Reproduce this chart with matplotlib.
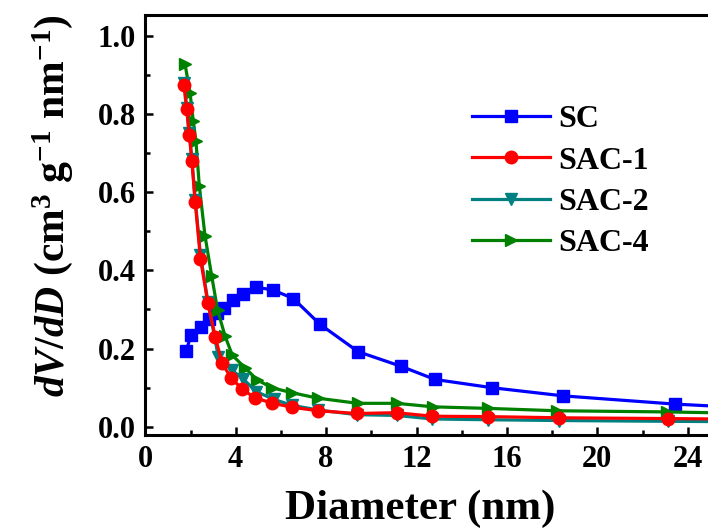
import matplotlib
matplotlib.use("Agg")
import matplotlib.pyplot as plt
from matplotlib.ticker import MultipleLocator, FormatStrFormatter

# ---- data ----
sc_x = [1.81, 2.02, 2.46, 2.80, 3.19, 3.50, 3.89, 4.34, 4.90, 5.64, 6.55, 7.73,
        9.42, 11.30, 12.82, 15.33, 18.50, 23.44, 29.50]
sc_y = [0.194, 0.234, 0.256, 0.275, 0.290, 0.303, 0.324, 0.339, 0.357, 0.350,
        0.328, 0.262, 0.192, 0.155, 0.121, 0.100, 0.079, 0.058, 0.040]

sac1_x = [1.72, 1.83, 1.95, 2.06, 2.21, 2.44, 2.77, 3.10, 3.40, 3.80, 4.29, 4.85,
          5.59, 6.48, 7.65, 9.35, 11.12, 12.70, 15.18, 18.32, 23.14, 29.00]
sac1_y = [0.874, 0.812, 0.746, 0.679, 0.574, 0.430, 0.316, 0.229, 0.162, 0.125,
          0.096, 0.074, 0.061, 0.050, 0.041, 0.034, 0.036, 0.027, 0.026, 0.023,
          0.021, 0.018]

sac2_x = [1.72, 1.83, 1.95, 2.06, 2.21, 2.44, 2.77, 3.23, 3.82, 4.34, 4.90, 5.70,
          6.48, 7.65, 9.35, 11.12, 12.70, 15.18, 18.32, 23.14, 29.00]
sac2_y = [0.880, 0.815, 0.750, 0.685, 0.580, 0.440, 0.320, 0.179, 0.145, 0.122,
          0.090, 0.070, 0.055, 0.043, 0.031, 0.029, 0.020, 0.018, 0.016, 0.014,
          0.012]

sac4_x = [1.76, 1.98, 2.12, 2.24, 2.39, 2.64, 2.94, 3.20, 3.53, 3.85, 4.41, 4.95,
          5.59, 6.50, 7.65, 9.40, 11.12, 12.74, 15.18, 18.20, 23.07, 29.00]
sac4_y = [0.927, 0.854, 0.783, 0.731, 0.616, 0.489, 0.385, 0.298, 0.232, 0.183,
          0.151, 0.120, 0.100, 0.087, 0.073, 0.060, 0.060, 0.051, 0.047, 0.041,
          0.038, 0.032]

labels = ["SC", "SAC-1", "SAC-2", "SAC-4"]
x_ticks = [0, 4, 8, 12, 16, 20, 24]
y_ticks = [0.0, 0.2, 0.4, 0.6, 0.8, 1.0]

# ---- style ----
plt.rcParams["font.family"] = ["Liberation Serif", "DejaVu Serif"]
plt.rcParams["font.weight"] = "bold"
plt.rcParams["mathtext.fontset"] = "custom"
plt.rcParams["mathtext.rm"] = "Liberation Serif:bold"
plt.rcParams["mathtext.bf"] = "Liberation Serif:bold"
plt.rcParams["mathtext.it"] = "Liberation Serif:italic:bold"

fig = plt.figure(figsize=(7.08, 5.30), dpi=100)
W, H = 708, 530
ax_left, ax_bottom, ax_top = 145.3, 435, 15
xmax = 26.0
ppu = 22.6
ax = fig.add_axes([ax_left / W, (H - ax_bottom) / H, xmax * ppu / W, (ax_bottom - ax_top) / H])

lw = 2.3
ms = 9
l_sc, = ax.plot(sc_x, sc_y, color="#0000FF", marker="s", lw=lw, ms=ms, zorder=2)
l4, = ax.plot(sac4_x, sac4_y, color="#008000", marker=">", lw=lw, ms=ms, zorder=3)
l2, = ax.plot(sac2_x, sac2_y, color="#008080", marker="v", lw=lw, ms=ms, zorder=4)
l1, = ax.plot(sac1_x, sac1_y, color="#FF0000", marker="o", lw=lw, ms=ms, zorder=5)

ax.set_xticks(x_ticks)
ax.set_yticks(y_ticks)
ax.xaxis.set_minor_locator(MultipleLocator(2))
ax.yaxis.set_minor_locator(MultipleLocator(0.1))
ax.yaxis.set_major_formatter(FormatStrFormatter("%.1f"))
ax.set_xlim(0, xmax)
ax.set_ylim(-0.021, 1.053)

for s in ax.spines.values():
    s.set_linewidth(2.2)
ax.tick_params(which="major", direction="in", length=6, width=1.8,
               labelsize=22, top=False, right=False, pad=7)
ax.tick_params(which="minor", direction="in", length=3.5, width=1.8,
               top=False, right=False)
for t in ax.get_xticklabels() + ax.get_yticklabels():
    t.set_fontweight("bold")

ax.set_xlabel("Diameter (nm)", fontsize=31, fontweight="bold")
ax.xaxis.set_label_coords((420.5 - ax_left) / (xmax * ppu), -0.13)
ax.set_ylabel(r"$\mathit{dV/dD}$ (cm$^{3}$ g$^{-1}$ nm$^{-1}$)", fontsize=30,
              fontweight="bold")
ax.yaxis.set_label_coords((75 - ax_left) / (xmax * ppu), (ax_bottom - 206) / (ax_bottom - ax_top))

leg = fig.legend([l_sc, l1, l2, l4], labels, loc="upper left",
                 bbox_to_anchor=(471.7 / W, 1 - 105 / H), bbox_transform=fig.transFigure,
                 frameon=False, handlelength=2.45, handletextpad=0.27,
                 labelspacing=0.37, borderpad=0, borderaxespad=0, numpoints=1,
                 prop={"weight": "bold", "size": 23})

fig.savefig("out.png", dpi=100)
